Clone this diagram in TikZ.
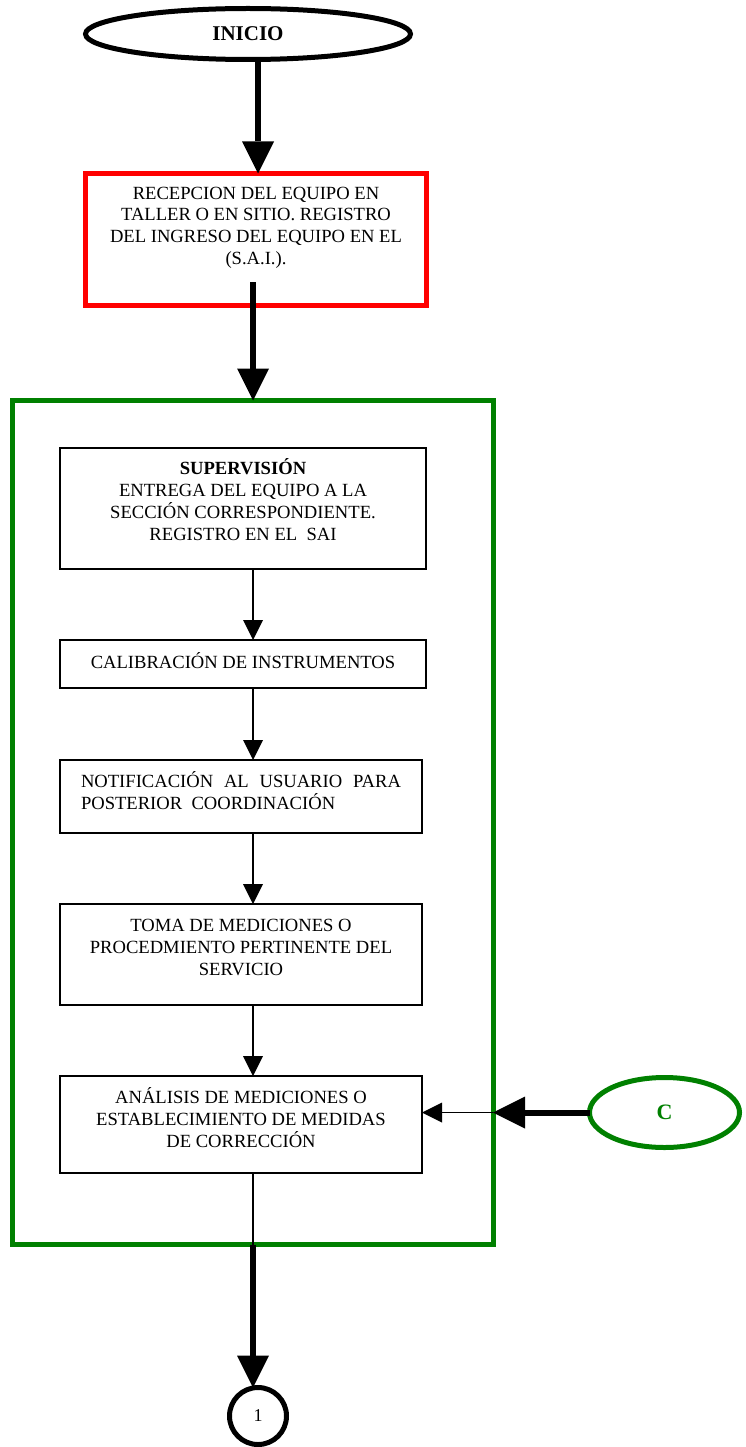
\documentclass[tikz,border=0pt]{standalone}
\usepackage{fontspec}
\setmainfont{Liberation Serif}
\usetikzlibrary{positioning,arrows.meta,shapes.geometric,calc}
\definecolor{verde}{RGB}{0,128,0}

\begin{document}
\begin{tikzpicture}[
  x=1pt, y=-1pt, font=\fontsize{18.6}{22}\selectfont,
  flecha/.style={-{Triangle[length=20pt,width=20pt,line width=0pt]},line width=1.3pt},
  gruesa/.style={-{Triangle[length=32pt,width=32pt,line width=0pt]},line width=6pt},
  caja/.style={draw,line width=1.3pt,align=center,inner sep=0pt,outer sep=0pt,anchor=north},
  term/.style={draw,ellipse,line width=5pt,inner sep=0pt,outer sep=0pt}
]
\useasboundingbox (0,0) rectangle (746,1447);
\coordinate (colA) at (258,0);
\coordinate (colB) at (253,0);

\node[term,minimum width=325pt,minimum height=51pt,font=\bfseries\fontsize{21}{24}\selectfont] (inicio) at (248,34) {INICIO};
\node[caja,draw=red,line width=5pt,minimum width=341pt,text height=91.5pt,text depth=40pt] (recep) at (256,173.5)
  {RECEPCION DEL EQUIPO EN\\TALLER O EN SITIO. REGISTRO\\DEL INGRESO DEL EQUIPO EN EL\\(S.A.I.).};
\node[draw=verde,line width=5pt,inner sep=0pt,outer sep=0pt,minimum width=480.5pt,minimum height=844pt] (marco) at (252.75,822.5) {};

\node[caja,minimum width=366pt,text height=92pt,text depth=29pt] (superv) at (243,448)
  {\textbf{SUPERVISIÓN}\\ENTREGA DEL EQUIPO A LA\\SECCIÓN CORRESPONDIENTE.\\REGISTRO EN EL\ \ SAI};
\node[caja,minimum width=366pt,text height=28pt,text depth=20pt] (calib) at (243,640)
  {CALIBRACIÓN DE INSTRUMENTOS};
\node[caja,minimum width=362pt,text width=320pt,align=justify,text height=27pt,text depth=46pt] (notif) at (241,760)
  {NOTIFICACIÓN AL USUARIO PARA\linebreak POSTERIOR\ \ COORDINACIÓN};
\node[caja,minimum width=362pt,text height=71pt,text depth=30pt] (toma) at (241,904)
  {TOMA DE MEDICIONES O\\PROCEDMIENTO PERTINENTE DEL\\SERVICIO};
\node[caja,minimum width=362pt,text height=71pt,text depth=26pt] (analisis) at (241,1076)
  {ANÁLISIS DE MEDICIONES O\\ESTABLECIMIENTO DE MEDIDAS\\DE CORRECCIÓN};

\node[term,draw=verde,text=verde,minimum width=150pt,minimum height=70pt,font=\bfseries\fontsize{22}{24}\selectfont] (conC) at (664.5,1112.5) {C};
\node[draw,circle,line width=5pt,inner sep=0pt,outer sep=0pt,minimum size=57pt,font=\fontsize{18}{20}\selectfont] (uno) at (258,1416) {1};

\draw[gruesa] (inicio.south -| colA) -- (recep.north -| colA);
\draw[gruesa] ($(recep.south -| colB)+(0,-23)$) -- (marco.north -| colB);
\draw[flecha] (superv.south -| colB) -- (calib.north -| colB);
\draw[flecha] (calib.south -| colB) -- (notif.north -| colB);
\draw[flecha] (notif.south -| colB) -- (toma.north -| colB);
\draw[flecha] (toma.south -| colB) -- (analisis.north -| colB);
\draw[line width=1.3pt] (analisis.south -| colB) -- (marco.south -| colB);
\draw[gruesa] (marco.south -| colB) -- (uno.north -| colB);
\draw[gruesa] (conC.west) -- (conC.west -| marco.east);
\draw[flecha] (conC.west -| marco.east) -- (conC.west -| analisis.east);
\end{tikzpicture}
\end{document}
